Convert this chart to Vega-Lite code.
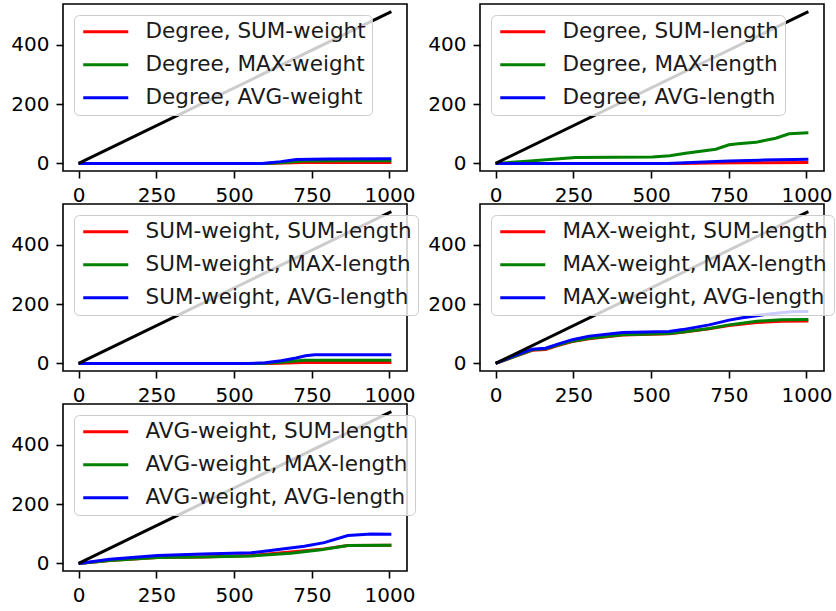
{
  "$schema": "https://vega.github.io/schema/vega-lite/v6.json",
  "padding": {"left": 10, "top": 3, "right": 8, "bottom": 4},
  "datasets": {
    "diag": [{"x": 0, "y": 0}, {"x": 1006, "y": 512}],
    "lines": [
      {"p": 1, "s": "Degree, SUM-weight", "x": 0, "y": 0},
      {"p": 1, "s": "Degree, SUM-weight", "x": 600, "y": 0},
      {"p": 1, "s": "Degree, SUM-weight", "x": 660, "y": 1},
      {"p": 1, "s": "Degree, SUM-weight", "x": 720, "y": 3},
      {"p": 1, "s": "Degree, SUM-weight", "x": 1006, "y": 3},
      {"p": 1, "s": "Degree, MAX-weight", "x": 0, "y": 0},
      {"p": 1, "s": "Degree, MAX-weight", "x": 600, "y": 0},
      {"p": 1, "s": "Degree, MAX-weight", "x": 660, "y": 3},
      {"p": 1, "s": "Degree, MAX-weight", "x": 720, "y": 8},
      {"p": 1, "s": "Degree, MAX-weight", "x": 850, "y": 9},
      {"p": 1, "s": "Degree, MAX-weight", "x": 1006, "y": 9},
      {"p": 1, "s": "Degree, AVG-weight", "x": 0, "y": 0},
      {"p": 1, "s": "Degree, AVG-weight", "x": 590, "y": 0},
      {"p": 1, "s": "Degree, AVG-weight", "x": 650, "y": 6},
      {"p": 1, "s": "Degree, AVG-weight", "x": 700, "y": 13},
      {"p": 1, "s": "Degree, AVG-weight", "x": 800, "y": 15},
      {"p": 1, "s": "Degree, AVG-weight", "x": 1006, "y": 16},

      {"p": 2, "s": "Degree, SUM-length", "x": 0, "y": 0},
      {"p": 2, "s": "Degree, SUM-length", "x": 600, "y": 0},
      {"p": 2, "s": "Degree, SUM-length", "x": 700, "y": 1},
      {"p": 2, "s": "Degree, SUM-length", "x": 800, "y": 2},
      {"p": 2, "s": "Degree, SUM-length", "x": 1006, "y": 3},
      {"p": 2, "s": "Degree, MAX-length", "x": 0, "y": 0},
      {"p": 2, "s": "Degree, MAX-length", "x": 100, "y": 7},
      {"p": 2, "s": "Degree, MAX-length", "x": 257, "y": 20},
      {"p": 2, "s": "Degree, MAX-length", "x": 504, "y": 22},
      {"p": 2, "s": "Degree, MAX-length", "x": 560, "y": 26},
      {"p": 2, "s": "Degree, MAX-length", "x": 611, "y": 34},
      {"p": 2, "s": "Degree, MAX-length", "x": 708, "y": 48},
      {"p": 2, "s": "Degree, MAX-length", "x": 751, "y": 63},
      {"p": 2, "s": "Degree, MAX-length", "x": 780, "y": 66},
      {"p": 2, "s": "Degree, MAX-length", "x": 837, "y": 71},
      {"p": 2, "s": "Degree, MAX-length", "x": 901, "y": 85},
      {"p": 2, "s": "Degree, MAX-length", "x": 944, "y": 100},
      {"p": 2, "s": "Degree, MAX-length", "x": 1006, "y": 103},
      {"p": 2, "s": "Degree, AVG-length", "x": 0, "y": 0},
      {"p": 2, "s": "Degree, AVG-length", "x": 550, "y": 0},
      {"p": 2, "s": "Degree, AVG-length", "x": 650, "y": 4},
      {"p": 2, "s": "Degree, AVG-length", "x": 750, "y": 8},
      {"p": 2, "s": "Degree, AVG-length", "x": 850, "y": 11},
      {"p": 2, "s": "Degree, AVG-length", "x": 1006, "y": 14},

      {"p": 3, "s": "SUM-weight, SUM-length", "x": 0, "y": 0},
      {"p": 3, "s": "SUM-weight, SUM-length", "x": 620, "y": 0},
      {"p": 3, "s": "SUM-weight, SUM-length", "x": 720, "y": 3},
      {"p": 3, "s": "SUM-weight, SUM-length", "x": 1006, "y": 3},
      {"p": 3, "s": "SUM-weight, MAX-length", "x": 0, "y": 0},
      {"p": 3, "s": "SUM-weight, MAX-length", "x": 590, "y": 0},
      {"p": 3, "s": "SUM-weight, MAX-length", "x": 660, "y": 5},
      {"p": 3, "s": "SUM-weight, MAX-length", "x": 726, "y": 11},
      {"p": 3, "s": "SUM-weight, MAX-length", "x": 1006, "y": 11},
      {"p": 3, "s": "SUM-weight, AVG-length", "x": 0, "y": 0},
      {"p": 3, "s": "SUM-weight, AVG-length", "x": 545, "y": 0},
      {"p": 3, "s": "SUM-weight, AVG-length", "x": 600, "y": 2},
      {"p": 3, "s": "SUM-weight, AVG-length", "x": 651, "y": 9},
      {"p": 3, "s": "SUM-weight, AVG-length", "x": 700, "y": 18},
      {"p": 3, "s": "SUM-weight, AVG-length", "x": 730, "y": 26},
      {"p": 3, "s": "SUM-weight, AVG-length", "x": 760, "y": 29},
      {"p": 3, "s": "SUM-weight, AVG-length", "x": 1006, "y": 29},

      {"p": 4, "s": "MAX-weight, SUM-length", "x": 0, "y": 0},
      {"p": 4, "s": "MAX-weight, SUM-length", "x": 118, "y": 44},
      {"p": 4, "s": "MAX-weight, SUM-length", "x": 161, "y": 47},
      {"p": 4, "s": "MAX-weight, SUM-length", "x": 200, "y": 60},
      {"p": 4, "s": "MAX-weight, SUM-length", "x": 247, "y": 74},
      {"p": 4, "s": "MAX-weight, SUM-length", "x": 301, "y": 83},
      {"p": 4, "s": "MAX-weight, SUM-length", "x": 408, "y": 96},
      {"p": 4, "s": "MAX-weight, SUM-length", "x": 558, "y": 100},
      {"p": 4, "s": "MAX-weight, SUM-length", "x": 601, "y": 105},
      {"p": 4, "s": "MAX-weight, SUM-length", "x": 687, "y": 117},
      {"p": 4, "s": "MAX-weight, SUM-length", "x": 751, "y": 128},
      {"p": 4, "s": "MAX-weight, SUM-length", "x": 840, "y": 138},
      {"p": 4, "s": "MAX-weight, SUM-length", "x": 920, "y": 142},
      {"p": 4, "s": "MAX-weight, SUM-length", "x": 1006, "y": 143},
      {"p": 4, "s": "MAX-weight, MAX-length", "x": 0, "y": 0},
      {"p": 4, "s": "MAX-weight, MAX-length", "x": 118, "y": 46},
      {"p": 4, "s": "MAX-weight, MAX-length", "x": 161, "y": 49},
      {"p": 4, "s": "MAX-weight, MAX-length", "x": 200, "y": 62},
      {"p": 4, "s": "MAX-weight, MAX-length", "x": 247, "y": 75},
      {"p": 4, "s": "MAX-weight, MAX-length", "x": 301, "y": 85},
      {"p": 4, "s": "MAX-weight, MAX-length", "x": 408, "y": 97},
      {"p": 4, "s": "MAX-weight, MAX-length", "x": 558, "y": 101},
      {"p": 4, "s": "MAX-weight, MAX-length", "x": 601, "y": 106},
      {"p": 4, "s": "MAX-weight, MAX-length", "x": 687, "y": 118},
      {"p": 4, "s": "MAX-weight, MAX-length", "x": 751, "y": 130},
      {"p": 4, "s": "MAX-weight, MAX-length", "x": 840, "y": 142},
      {"p": 4, "s": "MAX-weight, MAX-length", "x": 920, "y": 147},
      {"p": 4, "s": "MAX-weight, MAX-length", "x": 1006, "y": 148},
      {"p": 4, "s": "MAX-weight, AVG-length", "x": 0, "y": 0},
      {"p": 4, "s": "MAX-weight, AVG-length", "x": 60, "y": 26},
      {"p": 4, "s": "MAX-weight, AVG-length", "x": 118, "y": 48},
      {"p": 4, "s": "MAX-weight, AVG-length", "x": 161, "y": 51},
      {"p": 4, "s": "MAX-weight, AVG-length", "x": 200, "y": 65},
      {"p": 4, "s": "MAX-weight, AVG-length", "x": 247, "y": 80},
      {"p": 4, "s": "MAX-weight, AVG-length", "x": 301, "y": 92},
      {"p": 4, "s": "MAX-weight, AVG-length", "x": 408, "y": 104},
      {"p": 4, "s": "MAX-weight, AVG-length", "x": 558, "y": 108},
      {"p": 4, "s": "MAX-weight, AVG-length", "x": 601, "y": 114},
      {"p": 4, "s": "MAX-weight, AVG-length", "x": 687, "y": 130},
      {"p": 4, "s": "MAX-weight, AVG-length", "x": 751, "y": 146},
      {"p": 4, "s": "MAX-weight, AVG-length", "x": 794, "y": 154},
      {"p": 4, "s": "MAX-weight, AVG-length", "x": 880, "y": 167},
      {"p": 4, "s": "MAX-weight, AVG-length", "x": 950, "y": 174},
      {"p": 4, "s": "MAX-weight, AVG-length", "x": 1006, "y": 175},

      {"p": 5, "s": "AVG-weight, SUM-length", "x": 0, "y": 0},
      {"p": 5, "s": "AVG-weight, SUM-length", "x": 100, "y": 10},
      {"p": 5, "s": "AVG-weight, SUM-length", "x": 254, "y": 20},
      {"p": 5, "s": "AVG-weight, SUM-length", "x": 400, "y": 22},
      {"p": 5, "s": "AVG-weight, SUM-length", "x": 555, "y": 27},
      {"p": 5, "s": "AVG-weight, SUM-length", "x": 600, "y": 31},
      {"p": 5, "s": "AVG-weight, SUM-length", "x": 700, "y": 40},
      {"p": 5, "s": "AVG-weight, SUM-length", "x": 790, "y": 49},
      {"p": 5, "s": "AVG-weight, SUM-length", "x": 866, "y": 60},
      {"p": 5, "s": "AVG-weight, SUM-length", "x": 1006, "y": 61},
      {"p": 5, "s": "AVG-weight, MAX-length", "x": 0, "y": 0},
      {"p": 5, "s": "AVG-weight, MAX-length", "x": 100, "y": 10},
      {"p": 5, "s": "AVG-weight, MAX-length", "x": 254, "y": 20},
      {"p": 5, "s": "AVG-weight, MAX-length", "x": 400, "y": 22},
      {"p": 5, "s": "AVG-weight, MAX-length", "x": 555, "y": 25},
      {"p": 5, "s": "AVG-weight, MAX-length", "x": 683, "y": 34},
      {"p": 5, "s": "AVG-weight, MAX-length", "x": 780, "y": 46},
      {"p": 5, "s": "AVG-weight, MAX-length", "x": 866, "y": 60},
      {"p": 5, "s": "AVG-weight, MAX-length", "x": 1006, "y": 61},
      {"p": 5, "s": "AVG-weight, AVG-length", "x": 0, "y": 0},
      {"p": 5, "s": "AVG-weight, AVG-length", "x": 100, "y": 14},
      {"p": 5, "s": "AVG-weight, AVG-length", "x": 254, "y": 27},
      {"p": 5, "s": "AVG-weight, AVG-length", "x": 400, "y": 32},
      {"p": 5, "s": "AVG-weight, AVG-length", "x": 555, "y": 36},
      {"p": 5, "s": "AVG-weight, AVG-length", "x": 630, "y": 45},
      {"p": 5, "s": "AVG-weight, AVG-length", "x": 726, "y": 58},
      {"p": 5, "s": "AVG-weight, AVG-length", "x": 790, "y": 70},
      {"p": 5, "s": "AVG-weight, AVG-length", "x": 866, "y": 94},
      {"p": 5, "s": "AVG-weight, AVG-length", "x": 941, "y": 99},
      {"p": 5, "s": "AVG-weight, AVG-length", "x": 1006, "y": 98}
    ]
  },
  "columns": 2,
  "bounds": "flush",
  "spacing": {"row": 33, "column": 73},
  "concat": [
    {
      "width": 344, "height": 167,
      "layer": [
        {
          "data": {"name": "lines"},
          "transform": [{"filter": "datum.p == 1"}],
          "mark": {"type": "line", "strokeWidth": 3},
          "encoding": {
            "x": {"field": "x", "type": "quantitative", "title": null, "scale": {"domain": [-50.3, 1056.3], "nice": false, "zero": false}, "axis": {"values": [0, 250, 500, 750, 1000], "format": "d"}},
            "y": {"field": "y", "type": "quantitative", "title": null, "scale": {"domain": [-25.6, 537.6], "nice": false, "zero": false}, "axis": {"values": [0, 200, 400], "format": "d"}},
            "color": {"field": "s", "type": "nominal", "title": null, "scale": {"domain": ["Degree, SUM-weight", "Degree, MAX-weight", "Degree, AVG-weight"], "range": ["#ff0000", "#008000", "#0000ff"]}}
          }
        },
        {
          "data": {"name": "diag"},
          "mark": {"type": "line", "color": "black", "strokeWidth": 3},
          "encoding": {"x": {"field": "x", "type": "quantitative"}, "y": {"field": "y", "type": "quantitative"}}
        }
      ]
    },
    {
      "width": 344, "height": 167,
      "layer": [
        {
          "data": {"name": "lines"},
          "transform": [{"filter": "datum.p == 2"}],
          "mark": {"type": "line", "strokeWidth": 3},
          "encoding": {
            "x": {"field": "x", "type": "quantitative", "title": null, "scale": {"domain": [-50.3, 1056.3], "nice": false, "zero": false}, "axis": {"values": [0, 250, 500, 750, 1000], "format": "d"}},
            "y": {"field": "y", "type": "quantitative", "title": null, "scale": {"domain": [-25.6, 537.6], "nice": false, "zero": false}, "axis": {"values": [0, 200, 400], "format": "d"}},
            "color": {"field": "s", "type": "nominal", "title": null, "scale": {"domain": ["Degree, SUM-length", "Degree, MAX-length", "Degree, AVG-length"], "range": ["#ff0000", "#008000", "#0000ff"]}}
          }
        },
        {
          "data": {"name": "diag"},
          "mark": {"type": "line", "color": "black", "strokeWidth": 3},
          "encoding": {"x": {"field": "x", "type": "quantitative"}, "y": {"field": "y", "type": "quantitative"}}
        }
      ]
    },
    {
      "width": 344, "height": 167,
      "layer": [
        {
          "data": {"name": "lines"},
          "transform": [{"filter": "datum.p == 3"}],
          "mark": {"type": "line", "strokeWidth": 3},
          "encoding": {
            "x": {"field": "x", "type": "quantitative", "title": null, "scale": {"domain": [-50.3, 1056.3], "nice": false, "zero": false}, "axis": {"values": [0, 250, 500, 750, 1000], "format": "d"}},
            "y": {"field": "y", "type": "quantitative", "title": null, "scale": {"domain": [-25.6, 537.6], "nice": false, "zero": false}, "axis": {"values": [0, 200, 400], "format": "d"}},
            "color": {"field": "s", "type": "nominal", "title": null, "scale": {"domain": ["SUM-weight, SUM-length", "SUM-weight, MAX-length", "SUM-weight, AVG-length"], "range": ["#ff0000", "#008000", "#0000ff"]}}
          }
        },
        {
          "data": {"name": "diag"},
          "mark": {"type": "line", "color": "black", "strokeWidth": 3},
          "encoding": {"x": {"field": "x", "type": "quantitative"}, "y": {"field": "y", "type": "quantitative"}}
        }
      ]
    },
    {
      "width": 344, "height": 167,
      "layer": [
        {
          "data": {"name": "lines"},
          "transform": [{"filter": "datum.p == 4"}],
          "mark": {"type": "line", "strokeWidth": 3},
          "encoding": {
            "x": {"field": "x", "type": "quantitative", "title": null, "scale": {"domain": [-50.3, 1056.3], "nice": false, "zero": false}, "axis": {"values": [0, 250, 500, 750, 1000], "format": "d"}},
            "y": {"field": "y", "type": "quantitative", "title": null, "scale": {"domain": [-25.6, 537.6], "nice": false, "zero": false}, "axis": {"values": [0, 200, 400], "format": "d"}},
            "color": {"field": "s", "type": "nominal", "title": null, "scale": {"domain": ["MAX-weight, SUM-length", "MAX-weight, MAX-length", "MAX-weight, AVG-length"], "range": ["#ff0000", "#008000", "#0000ff"]}}
          }
        },
        {
          "data": {"name": "diag"},
          "mark": {"type": "line", "color": "black", "strokeWidth": 3},
          "encoding": {"x": {"field": "x", "type": "quantitative"}, "y": {"field": "y", "type": "quantitative"}}
        }
      ]
    },
    {
      "width": 344, "height": 167,
      "layer": [
        {
          "data": {"name": "lines"},
          "transform": [{"filter": "datum.p == 5"}],
          "mark": {"type": "line", "strokeWidth": 3},
          "encoding": {
            "x": {"field": "x", "type": "quantitative", "title": null, "scale": {"domain": [-50.3, 1056.3], "nice": false, "zero": false}, "axis": {"values": [0, 250, 500, 750, 1000], "format": "d"}},
            "y": {"field": "y", "type": "quantitative", "title": null, "scale": {"domain": [-25.6, 537.6], "nice": false, "zero": false}, "axis": {"values": [0, 200, 400], "format": "d"}},
            "color": {"field": "s", "type": "nominal", "title": null, "scale": {"domain": ["AVG-weight, SUM-length", "AVG-weight, MAX-length", "AVG-weight, AVG-length"], "range": ["#ff0000", "#008000", "#0000ff"]}}
          }
        },
        {
          "data": {"name": "diag"},
          "mark": {"type": "line", "color": "black", "strokeWidth": 3},
          "encoding": {"x": {"field": "x", "type": "quantitative"}, "y": {"field": "y", "type": "quantitative"}}
        }
      ]
    }
  ],
  "resolve": {"scale": {"color": "independent"}, "legend": {"color": "independent"}},
  "config": {
    "font": "DejaVu Sans",
    "view": {"stroke": "black", "strokeWidth": 1.6},
    "axis": {
      "grid": false,
      "domain": false,
      "tickColor": "black",
      "tickWidth": 1.6,
      "tickSize": 7,
      "labelFont": "DejaVu Sans",
      "labelFontSize": 20,
      "labelColor": "black",
      "labelPadding": 7
    },
    "legend": {
      "orient": "top-left",
      "offset": 11,
      "padding": 6,
      "fillColor": "rgba(255,255,255,0.8)",
      "strokeColor": "#cccccc",
      "cornerRadius": 5,
      "zindex": 1,
      "labelFont": "DejaVu Sans",
      "labelFontSize": 21.5,
      "labelColor": "#1a1a1a",
      "labelLimit": 400,
      "labelOffset": 44,
      "rowPadding": 10,
      "symbolType": "M-1,0H5",
      "symbolStrokeWidth": 3,
      "symbolSize": 225
    }
  }
}
